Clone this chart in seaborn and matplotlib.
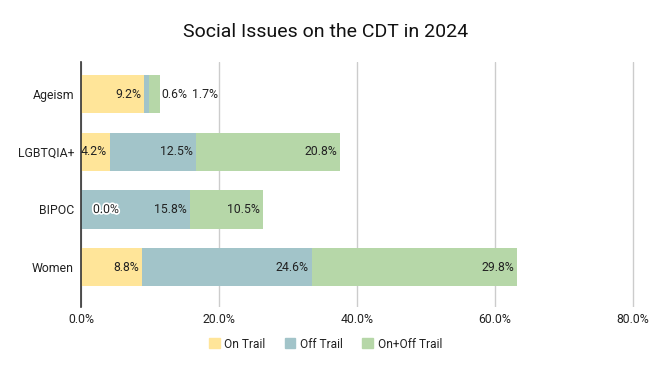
import matplotlib.pyplot as plt
import matplotlib.patheffects as pe
import pandas as pd
import seaborn as sns
from matplotlib.patches import Patch
from matplotlib.ticker import PercentFormatter

# data (percent)
groups = ["Ageism", "LGBTQIA+", "BIPOC", "Women"]
on_trail = [9.2, 4.2, 0.0, 8.8]
off_trail = [0.6, 12.5, 15.8, 24.6]
on_off_trail = [1.7, 20.8, 10.5, 29.8]
series = ["On Trail", "Off Trail", "On+Off Trail"]
colors = ["#FFE599", "#A2C4C9", "#B6D7A8"]

sns.set_theme(style="white")
plt.rcParams["font.family"] = ["Roboto", "DejaVu Sans"]

df = pd.DataFrame({"group": groups, "On Trail": on_trail,
                   "Off Trail": off_trail, "On+Off Trail": on_off_trail})
# cumulative sums so bars can be layered (longest first)
cum = df[series].cumsum(axis=1)
cum["group"] = df["group"]

fig = plt.figure(figsize=(6.51, 3.71), dpi=100)
ax = fig.add_axes([0.1244, 0.1725, 0.8515, 0.6604])

for s, c in reversed(list(zip(series, colors))):
    sns.barplot(data=cum, x=s, y="group", order=groups, color=c,
                width=0.66, ax=ax, saturation=1, linewidth=0)

ax.set_xlim(0, 80.3)
ax.set_ylim(3.69, -0.555)
ax.set_xticks([0, 20, 40, 60, 80])
ax.xaxis.set_major_formatter(PercentFormatter(decimals=1))
ax.grid(axis="x", color="#CCCCCC", linewidth=1)
ax.set_axisbelow(True)
for side in ["top", "right", "bottom"]:
    ax.spines[side].set_visible(False)
ax.spines["left"].set_color("#333333")
ax.spines["left"].set_linewidth(1.2)
ax.set_xlabel("")
ax.set_ylabel("")
ax.tick_params(axis="both", length=0, labelsize=8.8, colors="#222222")
ax.tick_params(axis="x", pad=4)
ax.tick_params(axis="y", pad=5)

# segment labels
for i, g in enumerate(groups):
    left = 0
    outside = 0
    total = df.loc[i, series].sum()
    for s in series:
        v = df.loc[i, s]
        right = left + v
        txt = f"{v:.1f}%"
        if v == 0:
            ax.annotate(txt, (left, i), xytext=(12, 0), textcoords="offset pixels",
                        va="center", ha="left", fontsize=8.8, color="#222222",
                        path_effects=[pe.withStroke(linewidth=2.5, foreground="white")])
        elif v < 3:
            ax.annotate(txt, (total, i), xytext=(1 + outside, 0), textcoords="offset pixels",
                        va="center", ha="left", fontsize=8.8, color="#222222")
            outside += 31
        else:
            ax.annotate(txt, (right, i), xytext=(-3, 0), textcoords="offset pixels",
                        va="center", ha="right", fontsize=8.8, color="#222222")
        left = right

fig.suptitle("Social Issues on the CDT in 2024", y=0.914, va="center",
             fontsize=14, color="#111111")

handles = [Patch(facecolor=c, edgecolor=c, label=s) for s, c in zip(series, colors)]
fig.legend(handles=handles, loc="center", bbox_to_anchor=(0.5, 1 - 344 / 371),
           ncol=3, frameon=False, fontsize=8.6, handlelength=0.9, handleheight=0.9,
           columnspacing=1.6, handletextpad=0.4, labelcolor="#222222")

fig.savefig("out.png", dpi=100)
